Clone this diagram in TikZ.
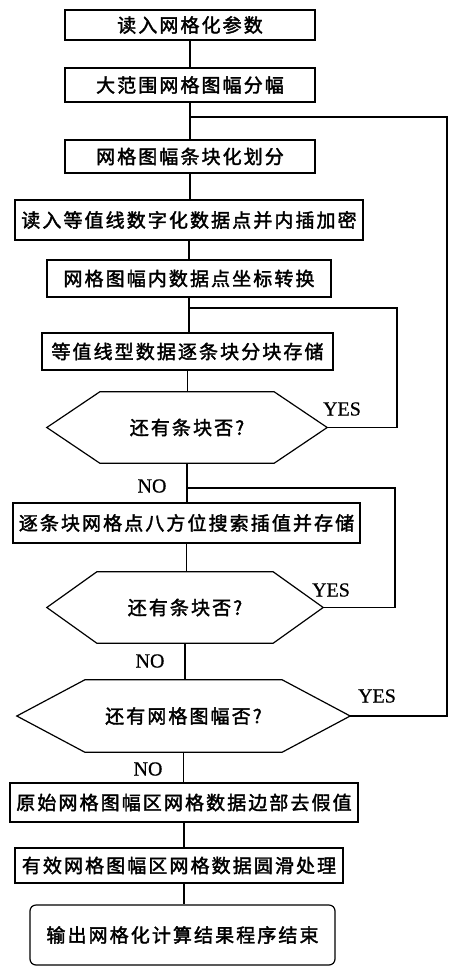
\documentclass[tikz,border=0pt]{standalone}
\usepackage{fontspec}
\newfontfamily\cjk[LetterSpace=11,FakeBold=2]{Noto Sans CJK SC}
\newfontfamily\lat[FakeBold=0.6]{Liberation Serif}
\tikzset{
  conn/.style={line width=1.2pt},
  proc/.style={draw, line width=1.2pt, inner sep=0pt, font=\cjk\fontsize{19}{19}\selectfont},
  endbox/.style={proc, rounded corners=6pt},
  dec/.style={inner sep=0pt, font=\cjk\fontsize{19}{19}\selectfont},
  lab/.style={inner sep=0pt, font=\lat\fontsize{20}{20}\selectfont},
}
\newcommand\hexpath[2]{\draw[conn] (#1.west) -- ([xshift=#2]#1.north west) -- ([xshift=-#2]#1.north east) -- (#1.east) -- ([xshift=-#2]#1.south east) -- ([xshift=#2]#1.south west) -- cycle;}
\begin{document}
\begin{tikzpicture}[x=1pt,y=-1pt]
\useasboundingbox (0,0) rectangle (451,967);
% process boxes
\node[proc, minimum width=250pt, minimum height=30pt] (b1) at (190,25) {读入网格化参数};
\node[proc, minimum width=250pt, minimum height=34pt] (b2) at (190,85) {大范围网格图幅分幅};
\node[proc, minimum width=250pt, minimum height=33pt] (b3) at (190,156.5) {网格图幅条块化划分};
\node[proc, minimum width=348pt, minimum height=40pt] (b4) at (189,220) {读入等值线数字化数据点并内插加密};
\node[proc, minimum width=284pt, minimum height=37pt] (b5) at (189,278.5) {网格图幅内数据点坐标转换};
\node[proc, minimum width=291pt, minimum height=37pt] (b6) at (187.5,351.5) {等值线型数据逐条块分块存储};
% decision 1
\node[dec, minimum width=280pt, minimum height=71pt] (d1) at (187,427.5) {还有条块否?};
\hexpath{d1}{53pt}
\node[proc, minimum width=347pt, minimum height=40pt] (b7) at (186.5,523) {逐条块网格点八方位搜索插值并存储};
% decision 2
\node[dec, minimum width=276pt, minimum height=71pt] (d2) at (185,607.5) {还有条块否?};
\hexpath{d2}{50pt}
% decision 3
\node[dec, minimum width=333pt, minimum height=72pt] (d3) at (183.5,716) {还有网格图幅否?};
\hexpath{d3}{68pt}
\node[proc, minimum width=348pt, minimum height=39pt] (b8) at (184,802.5) {原始网格图幅区网格数据边部去假值};
\node[proc, minimum width=328pt, minimum height=35pt] (b9) at (179,865.5) {有效网格图幅区网格数据圆滑处理};
\node[endbox, minimum width=305pt, minimum height=60pt] (b10) at (182.5,935) {输出网格化计算结果程序结束};
% labels
\node[lab] (y1) at (342,409) {YES};
\node[lab] (n1) at (152,486) {NO};
\node[lab] (y2) at (331,590) {YES};
\node[lab] (n2) at (150,661) {NO};
\node[lab] (y3) at (377,696) {YES};
\node[lab] (n3) at (148,769) {NO};
% main connectors
\draw[conn] (b1.south) -- (b1.south |- b2.north);
\draw[conn] (b2.south) -- (b2.south |- b3.north);
\draw[conn] (b3.south) -- (b3.south |- b4.north);
\draw[conn] (b4.south) -- (b4.south |- b5.north);
\draw[conn] (b5.south) -- (b5.south |- b6.north);
\draw[conn] (b6.south) -- (b6.south |- d1.north);
\draw[conn] (d1.south) -- (d1.south |- b7.north);
\draw[conn] (b7.south) -- (b7.south |- d2.north);
\draw[conn] (d2.south) -- (d2.south |- d3.north);
\draw[conn] (d3.south) -- (d3.south |- b8.north);
\draw[conn] (b8.south) -- (b8.south |- b9.north);
\draw[conn] (b9.south -| b8.south) -- (b8.south |- b10.north);
% loops
\coordinate (jA) at (190,117);
\coordinate (rA) at (447,117);
\draw[conn] (d3.east) -| (rA) -- (jA);
\coordinate (jB) at (189,308);
\coordinate (rB) at (397,308);
\draw[conn] (d1.east) -| (rB) -- (jB);
\coordinate (jC) at (187,488);
\coordinate (rC) at (395,488);
\draw[conn] (d2.east) -| (rC) -- (jC);
\end{tikzpicture}
\end{document}
